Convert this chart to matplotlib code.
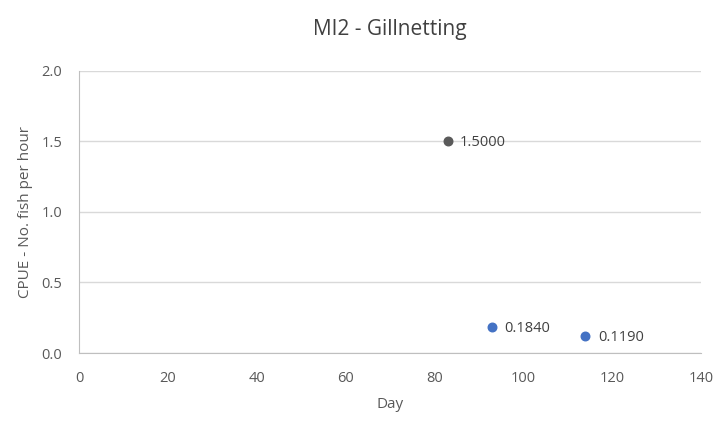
import matplotlib.pyplot as plt

# Datos
dias_gris = [83]
cpue_gris = [1.5000]
dias_azul = [93, 114]
cpue_azul = [0.1840, 0.1190]

plt.rcParams["font.family"] = ["Open Sans", "DejaVu Sans"]

fig = plt.figure(figsize=(7.18, 4.22), dpi=100)
ax = fig.add_axes([0.110, 0.1635, 0.866, 0.6685])

ax.scatter(dias_gris, cpue_gris, color="#5a5a5a", s=38, zorder=3)
ax.scatter(dias_azul, cpue_azul, color="#4472c4", s=38, zorder=3)

for x, y in zip(dias_gris + dias_azul, cpue_gris + cpue_azul):
    ax.annotate(f"{y:.4f}", (x, y), xytext=(9, -1), textcoords="offset points",
                va="center", ha="left", fontsize=10.5, color="#404040")

ax.set_xlim(0, 140)
ax.set_ylim(0, 2.0)
ax.set_xticks(range(0, 141, 20))
ax.set_yticks([0, 0.5, 1.0, 1.5, 2.0])
ax.yaxis.set_major_formatter(plt.FormatStrFormatter("%.1f"))
ax.grid(axis="y", color="#d9d9d9", linewidth=1)
ax.set_axisbelow(True)
for s in ["top", "right"]:
    ax.spines[s].set_visible(False)
for s in ["left", "bottom"]:
    ax.spines[s].set_color("#bfbfbf")
ax.tick_params(length=0, labelsize=10.5, colors="#595959")
ax.tick_params(axis="x", pad=13)
ax.tick_params(axis="y", pad=12)

ax.set_xlabel("Day", fontsize=11, color="#595959", labelpad=8)
ax.set_ylabel("CPUE - No. fish per hour", fontsize=11, color="#595959", labelpad=6)
ax.set_title("MI2 - Gillnetting", fontsize=15, color="#404040", pad=26)

fig.savefig("out.png", dpi=100)
